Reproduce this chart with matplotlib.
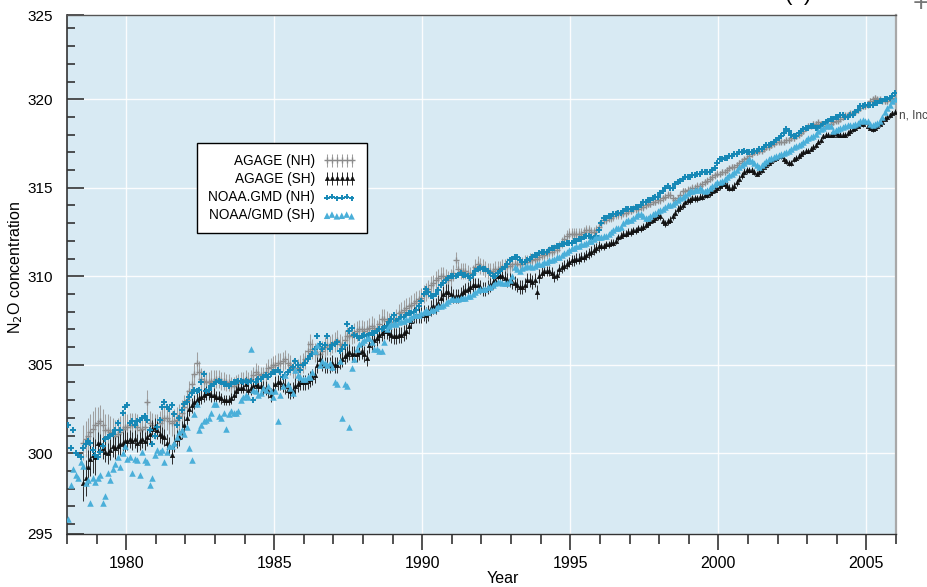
import numpy as np
import matplotlib
matplotlib.use("Agg")
import matplotlib.pyplot as plt
from matplotlib.ticker import FixedLocator, FixedFormatter, MultipleLocator

plt.rcParams['font.family'] = ['Liberation Sans', 'DejaVu Sans']

# ---------------- data (monthly values) ----------------
# AGAGE series start July 1978, NOAA series start January 1978
agage_nh = [
    300.6, 300.8, 301.0, 301.2, 301.4, 301.6,
    301.7, 301.8, 301.6, 301.3, 301.3, 301.2, 301.1, 301.0, 301.1, 301.2, 301.4, 301.5,
    301.5, 301.6, 301.6, 301.6, 301.5, 301.3, 301.4, 301.5, 302.9, 301.7, 301.6, 301.5,
    301.5, 301.7, 301.9, 302.0, 302.0, 301.8, 301.7, 301.8, 301.9, 302.1, 302.3, 302.6,
    303.0, 303.5, 303.9, 304.5, 305.1, 304.6, 304.2, 304.1, 304.0, 304.0, 304.1, 304.1,
    304.2, 304.2, 304.1, 304.1, 304.0, 304.0, 303.8, 303.8, 303.9, 304.0, 304.1, 304.1,
    304.2, 304.1, 304.2, 304.4, 304.6, 304.5, 304.4, 304.4, 304.6, 304.8, 304.9, 305.0,
    305.0, 305.1, 305.1, 305.2, 305.3, 305.1, 305.0, 304.8, 304.7, 304.8, 305.0, 305.1,
    305.3, 305.8, 306.2, 305.9, 305.7, 305.6, 305.6, 305.8, 306.0, 306.1, 306.1, 306.2,
    306.3, 306.4, 306.2, 306.1, 306.4, 306.6, 306.6, 306.7, 306.8, 306.9, 307.0, 307.0,
    306.9, 307.0, 307.1, 307.2, 307.1, 307.0, 307.3, 307.6, 307.6, 307.5, 307.4, 307.4,
    307.4, 307.6, 307.9, 308.0, 308.1, 308.2, 308.3, 308.4, 308.5, 308.6, 308.7, 308.8,
    309.0, 309.1, 309.3, 309.5, 309.6, 309.8, 309.9, 310.0, 310.0, 309.9, 309.8, 309.9,
    310.2, 310.9, 310.4, 310.3, 310.3, 310.3, 310.2, 310.1, 310.2, 310.5, 310.7, 310.6,
    310.5, 310.4, 310.3, 310.3, 310.3, 310.4, 310.4, 310.4, 310.5, 310.5, 310.6, 310.6,
    310.7, 310.7, 310.7, 310.7, 310.7, 310.8, 310.8, 310.9, 310.9, 311.0, 311.0, 311.1,
    311.2, 311.2, 311.3, 311.4, 311.4, 311.5, 311.5, 311.7, 311.9, 312.1, 312.3, 312.4,
    312.4, 312.4, 312.4, 312.4, 312.4, 312.5, 312.6, 312.6, 312.5, 312.5, 312.6, 312.8,
    313.0, 313.2, 313.2, 313.3, 313.3, 313.4, 313.5, 313.5, 313.5, 313.6, 313.6, 313.7,
    313.7, 313.8, 313.8, 313.8, 313.9, 313.9, 314.0, 314.1, 314.1, 314.2, 314.2, 314.3,
    314.3, 314.4, 314.5, 314.6, 314.6, 314.4, 314.3, 314.4, 314.6, 314.8, 314.8, 314.9,
    314.9, 315.0, 315.0, 315.1, 315.1, 315.2, 315.3, 315.4, 315.5, 315.6, 315.7, 315.8,
    315.8, 315.9, 315.9, 316.0, 316.1, 316.2, 316.2, 316.3, 316.4, 316.5, 316.6, 316.7,
    316.8, 316.9, 317.0, 317.0, 317.1, 317.1, 317.2, 317.3, 317.3, 317.4, 317.5, 317.6,
    317.6, 317.6, 317.6, 317.7, 317.7, 317.8, 317.8, 317.9, 318.0, 318.1, 318.2, 318.4,
    318.5, 318.5, 318.6, 318.6, 318.7, 318.6, 318.6, 318.5, 318.6, 318.6, 318.7, 318.8,
    318.8, 318.9, 319.0, 319.1, 319.1, 319.2, 319.2, 319.3, 319.4, 319.5, 319.6, 319.6,
    319.7, 319.9, 320.0, 320.1, 320.0, 320.0, 319.9, 319.9, 319.9, 320.0, 320.0, 320.1,
]

agage_sh = [
    298.3, 298.6, 299.2, 299.7, 299.9, 299.8,
    300.6, 300.5, 300.3, 300.1, 300.0, 300.2, 300.4, 300.3, 300.4, 300.5, 300.6, 300.7,
    300.7, 300.8, 300.7, 300.8, 300.6, 300.7, 300.8, 300.7, 300.9, 301.1, 301.4, 301.5,
    301.3, 301.1, 301.0, 300.9, 300.6, 300.4, 299.9, 300.6, 300.8, 300.9, 301.3, 301.6,
    302.0, 302.5, 302.7, 302.9, 303.0, 303.1, 303.2, 303.3, 303.4, 303.4, 303.3, 303.3,
    303.2, 303.2, 303.1, 303.0, 303.0, 303.0, 303.1, 303.3, 303.5, 303.7, 303.7, 303.7,
    303.9, 303.6, 303.7, 303.8, 303.9, 303.8, 303.8, 303.7, 303.7, 303.5, 303.3, 303.6,
    303.9, 304.0, 304.0, 303.9, 303.8, 303.6, 303.5, 303.6, 303.8, 303.9, 304.0, 304.0,
    304.0, 304.1, 304.2, 304.3, 304.4, 305.0, 305.3, 305.1, 305.0, 305.0, 305.0, 305.1,
    305.0, 305.0, 305.2, 305.3, 305.5, 305.6, 305.7, 305.6, 305.6, 305.6, 305.7, 305.8,
    305.6, 305.4, 306.1, 306.3, 306.4, 306.5, 306.7, 306.8, 306.9, 306.9, 306.8, 306.7,
    306.6, 306.6, 306.7, 306.7, 306.8, 306.9, 307.2, 307.5, 307.8, 307.8, 307.8, 307.8,
    307.9, 307.8, 307.9, 308.2, 308.3, 308.3, 308.5, 308.8, 309.0, 309.1, 309.1, 309.0,
    308.9, 308.9, 308.9, 309.0, 309.1, 309.2, 309.3, 309.4, 309.5, 309.5, 309.5, 309.4,
    309.3, 309.3, 309.4, 309.5, 309.7, 309.8, 310.0, 310.0, 310.0, 309.9, 309.8, 309.8,
    309.7, 309.6, 309.5, 309.4, 309.4, 309.5, 309.8, 309.8, 309.7, 309.8, 309.1, 310.0,
    310.2, 310.3, 310.3, 310.3, 310.2, 310.0, 310.1, 310.4, 310.5, 310.6, 310.7, 310.8,
    310.9, 310.9, 311.0, 311.0, 311.1, 311.1, 311.2, 311.3, 311.4, 311.5, 311.6, 311.7,
    311.7, 311.7, 311.8, 311.8, 311.9, 311.9, 312.0, 312.2, 312.3, 312.4, 312.4, 312.5,
    312.5, 312.6, 312.6, 312.7, 312.7, 312.8, 312.9, 313.0, 313.1, 313.2, 313.3, 313.4,
    313.4, 313.1, 313.0, 313.1, 313.2, 313.4, 313.6, 313.8, 313.9, 314.0, 314.2, 314.3,
    314.3, 314.4, 314.4, 314.4, 314.5, 314.5, 314.6, 314.6, 314.7, 314.8, 314.9, 315.0,
    315.1, 315.2, 315.2, 315.1, 315.0, 315.0, 315.1, 315.3, 315.5, 315.7, 315.9, 316.0,
    316.0, 316.0, 315.9, 315.8, 315.9, 316.0, 316.2, 316.3, 316.4, 316.5, 316.6, 316.7,
    316.8, 316.8, 316.6, 316.5, 316.4, 316.4, 316.6, 316.7, 316.8, 316.9, 317.0, 317.1,
    317.1, 317.2, 317.3, 317.4, 317.6, 317.7, 317.9, 318.0, 318.0, 318.0, 318.0, 318.1,
    318.0, 318.0, 318.0, 318.0, 318.1, 318.2, 318.3, 318.4, 318.5, 318.6, 318.6, 318.7,
    318.5, 318.4, 318.3, 318.4, 318.5, 318.6, 318.7, 318.9, 319.0, 319.1, 319.2, 319.3,
]

noaa_nh = [
    301.6, 300.3, 301.3, 300.0, 299.9, 299.8, 300.3, 300.5, 300.7, 300.6, 300.2, 299.9,
    299.8, 300.1, 300.4, 300.8, 300.9, 301.0, 301.1, 301.3, 301.7, 301.3, 302.3, 302.6,
    302.7, 301.7, 301.8, 301.6, 301.8, 301.9, 302.0, 302.1, 301.9, 301.3, 300.5, 301.0,
    301.5, 301.9, 302.6, 302.9, 302.6, 302.5, 302.7, 302.2, 301.6, 302.0, 302.45, 302.8,
    302.9, 303.2, 303.4, 303.6, 303.5, 303.6, 304.0, 304.5, 303.5, 303.6, 303.8, 303.9,
    304.0, 304.1, 304.0, 303.9, 303.9, 303.8, 303.9, 304.0, 304.0, 304.1, 304.1, 304.0,
    304.1, 304.0, 304.1, 303.0, 304.0, 304.2, 304.2, 304.3, 304.4, 304.3, 304.5, 304.6,
    304.6, 304.7, 304.6, 304.3, 304.4, 304.6, 304.7, 304.9, 305.2, 305.0, 304.7, 305.0,
    305.1, 305.3, 305.5, 305.6, 305.9, 306.6, 306.2, 305.9, 306.1, 306.6, 305.9, 306.1,
    306.2, 306.3, 305.8, 305.9, 306.1, 307.3, 306.9, 307.1, 306.7, 306.6, 306.5, 306.6,
    306.7, 306.6, 306.7, 306.8, 306.8, 306.9, 307.0, 307.0, 307.1, 307.2, 307.4, 307.6,
    307.8, 307.5, 307.6, 307.7, 307.7, 307.8, 307.9, 307.9, 308.0, 308.1, 308.3, 308.6,
    309.0, 309.3, 309.1, 308.9, 308.9, 309.0, 309.2, 309.5, 309.6, 309.8, 309.9, 310.0,
    310.0, 310.0, 310.1, 310.2, 310.1, 310.1, 310.0, 309.9, 310.1, 310.3, 310.4, 310.45,
    310.4, 310.4, 310.3, 310.2, 310.0, 310.0, 310.2, 310.3, 310.4, 310.5, 310.7, 310.9,
    311.0, 311.1, 311.1, 310.9, 310.8, 310.8, 310.9, 311.0, 311.1, 311.2, 311.2, 311.3,
    311.4, 311.4, 311.4, 311.5, 311.6, 311.6, 311.7, 311.7, 311.8, 311.8, 311.9, 311.9,
    311.9, 312.0, 312.0, 312.1, 312.1, 312.2, 312.3, 312.3, 312.2, 312.1, 312.3, 312.6,
    313.0, 313.3, 313.3, 313.4, 313.4, 313.5, 313.5, 313.6, 313.6, 313.7, 313.8, 313.8,
    313.8, 313.8, 313.9, 313.9, 314.0, 314.2, 314.2, 314.3, 314.3, 314.4, 314.5, 314.5,
    314.7, 314.8, 315.0, 315.1, 315.0, 315.0, 315.2, 315.3, 315.4, 315.5, 315.6, 315.6,
    315.6, 315.7, 315.7, 315.8, 315.8, 315.9, 315.9, 315.9, 315.9, 316.0, 316.1, 316.4,
    316.6, 316.6, 316.7, 316.7, 316.8, 316.8, 316.9, 316.9, 317.0, 317.0, 317.1, 317.0,
    317.0, 317.0, 317.05, 317.1, 317.2, 317.2, 317.3, 317.4, 317.4, 317.5, 317.6, 317.7,
    317.8, 317.9, 318.1, 318.3, 318.2, 318.0, 317.9, 317.9, 318.1, 318.2, 318.3, 318.4,
    318.4, 318.5, 318.5, 318.4, 318.4, 318.5, 318.6, 318.7, 318.8, 318.9, 318.9, 319.0,
    319.0, 319.1, 319.1, 319.0, 319.0, 319.1, 319.1, 319.3, 319.4, 319.6, 319.6, 319.7,
    319.7, 319.7, 319.7, 319.8, 319.8, 319.9, 319.9, 320.0, 320.0, 320.1, 320.2, 320.35,
]

noaa_sh = [
    296.3, 298.2, 299.1, 298.8, 298.6, 299.5, 299.3, 298.3, 298.5, 297.2, 298.6, 298.4,
    298.6, 298.8, 297.2, 297.6, 298.9, 298.5, 299.1, 299.4, 299.8, 299.2, 300.0, 300.4,
    299.7, 299.8, 298.9, 299.7, 299.6, 298.8, 300.1, 299.6, 299.5, 298.2, 298.6, 299.9,
    300.2, 300.1, 300.2, 299.5, 300.1, 300.4, 300.4, 300.6, 300.9, 301.2, 301.3, 301.1,
    301.5, 300.3, 299.6, 302.2, 302.8, 301.3, 301.6, 301.8, 301.9, 302.0, 302.3, 302.8,
    302.8, 302.1, 302.0, 302.3, 301.4, 302.2, 302.4, 302.3, 302.3, 302.4, 303.0, 303.2,
    303.3, 303.2, 305.9, 303.6, 303.5, 303.3, 303.4, 303.7, 303.6, 303.8, 303.5, 303.2,
    303.5, 301.8, 303.3, 303.8, 304.4, 303.9, 303.7, 303.4, 304.7, 304.4, 304.3, 304.2,
    304.2, 304.3, 304.3, 304.6, 305.8, 306.1, 305.0, 305.2, 305.1, 305.0, 305.1, 304.9,
    304.0, 303.9, 305.2, 302.0, 303.9, 303.8, 301.5, 304.8, 305.3, 305.9, 306.2, 306.3,
    306.4, 306.5, 306.5, 306.3, 305.9, 305.9, 305.8, 305.8, 306.3, 307.0, 307.2, 307.3,
    307.35, 307.3, 307.4, 307.5, 307.5, 307.6, 307.6, 307.7, 307.8, 307.8, 307.8, 307.9,
    308.0, 308.1, 308.0, 308.1, 308.1, 308.2, 308.3, 308.3, 308.4, 308.5, 308.6, 308.7,
    308.7, 308.7, 308.7, 308.8, 308.8, 308.8, 308.9, 308.9, 309.0, 309.1, 309.2, 309.3,
    309.3, 309.3, 309.4, 309.4, 309.5, 309.6, 309.7, 309.7, 309.6, 309.6, 309.6, 309.8,
    310.0, 310.5, 310.4, 310.3, 310.45, 310.5, 310.6, 310.6, 310.5, 310.6, 310.7, 310.7,
    310.7, 310.8, 310.8, 310.9, 310.9, 311.0, 311.1, 311.1, 311.2, 311.3, 311.4, 311.5,
    311.6, 311.6, 311.7, 311.7, 311.8, 311.8, 311.9, 312.0, 312.0, 312.1, 312.2, 312.2,
    312.2, 312.3, 312.3, 312.4, 312.5, 312.6, 312.7, 312.7, 312.8, 313.0, 313.1, 313.2,
    313.2, 313.3, 313.4, 313.5, 313.5, 313.4, 313.3, 313.3, 313.4, 313.5, 313.6, 313.7,
    313.75, 313.8, 313.9, 314.0, 314.0, 314.1, 314.2, 314.3, 314.4, 314.5, 314.6, 314.7,
    314.8, 314.8, 314.9, 314.9, 315.0, 314.9, 314.8, 314.9, 315.0, 315.1, 315.2, 315.3,
    315.35, 315.4, 315.5, 315.6, 315.7, 315.8, 315.9, 316.0, 316.2, 316.3, 316.4, 316.5,
    316.6, 316.5, 316.4, 316.3, 316.2, 316.3, 316.4, 316.5, 316.6, 316.7, 316.75, 316.8,
    316.85, 316.9, 316.95, 317.0, 317.1, 317.2, 317.3, 317.35, 317.4, 317.5, 317.6, 317.7,
    317.8, 317.85, 317.95, 318.05, 318.2, 318.3, 318.4, 318.5, 318.55, 318.5, 318.2, 318.25,
    318.3, 318.4, 318.45, 318.5, 318.55, 318.55, 318.55, 318.6, 318.65, 318.75, 318.85, 318.8,
    318.75, 318.6, 318.55, 318.6, 318.65, 318.8, 319.0, 319.3, 319.5, 319.7, 319.9, 320.0,
]

# typical half-length of AGAGE error bars, one value per year 1978..2005
err_years = list(range(1978, 2006))
agage_nh_err = [1.0, 0.9, 0.7, 0.7, 0.6, 0.5, 0.5, 0.55, 0.55, 0.55, 0.55, 0.55, 0.5, 0.45,
                0.45, 0.4, 0.3, 0.3, 0.25, 0.2, 0.2, 0.2, 0.15, 0.15, 0.15, 0.15, 0.15, 0.15]
agage_sh_err = [1.0, 0.6, 0.5, 0.5, 0.4, 0.3, 0.4, 0.45, 0.45, 0.45, 0.45, 0.45, 0.45, 0.4,
                0.4, 0.4, 0.3, 0.3, 0.2, 0.2, 0.2, 0.2, 0.2, 0.15, 0.15, 0.15, 0.15, 0.15]

labels = ['AGAGE (NH)', 'AGAGE (SH)', 'NOAA.GMD (NH)', 'NOAA/GMD (SH)']
x_major = [1980, 1985, 1990, 1995, 2000, 2005]
y_labels = ['295', '300', '305', '310', '315', '320', '325']

# ---------------- time axes ----------------
t_agage = 1978.5 + (np.arange(len(agage_nh)) + 0.5) / 12.0
t_noaa = 1978.0 + (np.arange(len(noaa_nh)) + 0.5) / 12.0
months_per_year = [6] + [12] * (len(err_years) - 1)
e_nh = np.repeat(agage_nh_err, months_per_year)
e_sh = np.repeat(agage_sh_err, months_per_year)

# ---------------- figure ----------------
fig = plt.figure(figsize=(9.28, 5.87), dpi=100)
ax = fig.add_axes([0.0722, 0.0903, 0.8933, 0.8841])
ax.set_facecolor('#d8eaf3')

YMIN, YMAX = 295.44, 324.76
ax.set_xlim(1978, 2006)
ax.set_ylim(YMIN, YMAX)

c_gray = '#8c8c8c'
c_black = '#111111'
c_noaa_nh = '#1688b6'
c_noaa_sh = '#4aafd9'

h1 = ax.errorbar(t_agage, agage_nh, yerr=e_nh, fmt='+', color=c_gray, ecolor='#a0a0a0',
                 elinewidth=0.75, capsize=0, ms=5, mew=1.0, zorder=3, label=labels[0])
h2 = ax.errorbar(t_agage, agage_sh, yerr=e_sh, fmt='^', color=c_black, ecolor='#2a2a2a',
                 elinewidth=0.7, capsize=0, ms=3.2, mew=0.4, zorder=4, label=labels[1])
h3 = ax.scatter(t_noaa, noaa_nh, marker='+', s=16, linewidths=1.4, color=c_noaa_nh,
                zorder=5, label=labels[2])
h4 = ax.scatter(t_noaa, noaa_sh, marker='^', s=22, linewidths=0, color=c_noaa_sh,
                zorder=6, label=labels[3])

# ticks
ax.xaxis.set_major_locator(FixedLocator(x_major))
ax.xaxis.set_minor_locator(MultipleLocator(1))
ax.yaxis.set_major_locator(FixedLocator([YMIN, 300, 305, 310, 315, 320, YMAX]))
ax.yaxis.set_major_formatter(FixedFormatter(y_labels))
ax.yaxis.set_minor_locator(FixedLocator([v for v in range(296, 325) if v % 5 != 0]))

ax.tick_params(axis='x', which='major', direction='out', length=11.5, width=1.2,
               color='#333333', labelsize=11.5, pad=4)
ax.tick_params(axis='x', which='minor', direction='out', length=7, width=1.2,
               color='#333333')
ax.tick_params(axis='y', which='major', direction='in', length=12, width=1.2,
               color='#333333', labelsize=11, pad=10)
ax.tick_params(axis='y', which='minor', direction='in', length=6, width=1.2,
               color='#333333')

ax.grid(True, which='major', color='white', lw=1.0, alpha=0.9)
ax.set_axisbelow(True)

for side, col, lw in [('left', '#333333', 1.2), ('bottom', '#333333', 1.0),
                      ('top', '#555555', 1.0), ('right', '#a8a8a8', 1.6)]:
    ax.spines[side].set_color(col)
    ax.spines[side].set_linewidth(lw)

ax.set_xlabel('Year', fontsize=11.5)
ax.xaxis.set_label_coords(0.526, -0.071)
ax.set_ylabel('N$_2$O concentration', fontsize=11.5)
ax.yaxis.set_label_coords(-0.051, 0.513)

leg = ax.legend([h1, h2, h3, h4], labels, loc='upper left',
                bbox_to_anchor=(0.157, 0.753), borderaxespad=0,
                markerfirst=False, numpoints=6, scatterpoints=6, fontsize=9.8,
                frameon=True, fancybox=False, framealpha=1, edgecolor='black',
                handlelength=2.4, handletextpad=0.6, labelspacing=0.3,
                borderpad=0.8)
leg.get_frame().set_linewidth(1.0)

# cropped page remnants
fig.text(899 / 928, 1 - 115 / 587, 'n, Inc.', fontsize=8.5, color='#444444',
         ha='left', va='center')
fig.text(798 / 928, 1 - 5 / 587, '(a)', fontsize=16, ha='center', va='bottom')
fig.text(921 / 928, 1 - 4 / 587, '+', fontsize=20, color='#777777', ha='center',
         va='center')

fig.savefig('out.png', dpi=100)
